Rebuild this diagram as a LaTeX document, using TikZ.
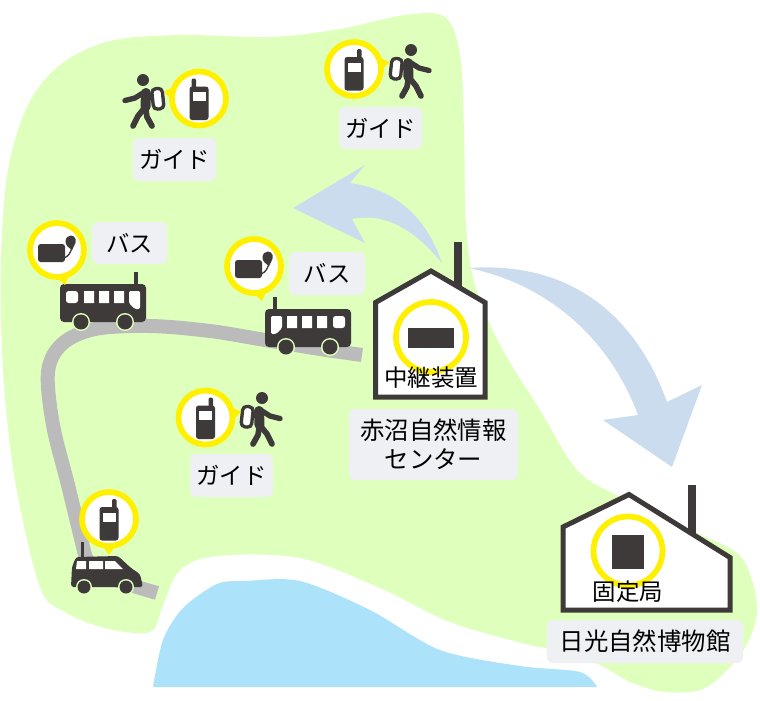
\documentclass[tikz,border=0pt]{standalone}
\usepackage{fontspec}
\setmainfont{Noto Sans CJK JP}
\definecolor{land}{HTML}{DFFFBD}
\definecolor{lake}{HTML}{ADE3FA}
\definecolor{road}{HTML}{BBBBBB}
\definecolor{wave}{HTML}{CBDCEE}
\definecolor{ink}{HTML}{3E3A39}
\definecolor{ringyellow}{HTML}{FFF000}
\definecolor{tag}{HTML}{EFF0F3}
\newlength{\pxu}\setlength{\pxu}{0.75pt}
\tikzset{
  x=0.75pt,y=-0.75pt,
  tagbox/.style={fill=tag,rounded corners=4pt,text=black,inner sep=0pt,align=center,font=\fontsize{18.3pt}{22pt}\selectfont},
  shorttag/.style={tagbox,font=\fontsize{17.5pt}{22pt}\selectfont},
  housetext/.style={text=black,inner sep=0pt,font=\fontsize{17.6pt}{21pt}\selectfont},
  house/.style={draw=ink,fill=white,line width=3.75pt,miter limit=10},
  pics/ring/.style={code={
    \fill[ringyellow] (26,-7) -- (36,0) -- (26,7) -- cycle;
    \draw[ringyellow,fill=white,line width=4.3pt] (0,0) circle (27);
  }},
  pics/phone/.style={code={
    \fill[ink,rounded corners=1pt] (3,-20) rectangle (7.5,-8);
    \fill[ink,rounded corners=2pt] (-9.5,-12) rectangle (9.5,21.5);
    \fill[white] (-6.5,-6.5) rectangle (6.5,2.5);
  }},
  pics/radio/.style={code={
    \fill[ink,rounded corners=2pt] (-19,-6) rectangle (8,12);
    \fill[ink] (14,-14.5) .. controls (19,-14.5) and (20,-8) .. (17.5,-5) .. controls (16.5,-3) and (15.5,-1) .. (15,0)
      .. controls (12,-2) and (8,-5) .. (8.5,-9) .. controls (9,-12.5) and (11,-14.5) .. (14,-14.5) -- cycle;
    \draw[ink,line width=1pt] (15,-2) .. controls (13,3) and (12,6) .. (7,8);
  }},
  pics/walker/.style={code={
    \fill[ink] (0,0) circle (6);
    \draw[ink,line width=7.5pt,line cap=round,line join=round] (-3,13) -- (-2.5,27);
    \draw[ink,line width=4pt,line cap=round,line join=round] (-3,11) -- (8,18) -- (18,20.5);
    \draw[ink,line width=4.3pt,line cap=round,line join=round] (-1.5,28) -- (5,36) -- (10,46);
    \draw[ink,line width=4.3pt,line cap=round,line join=round] (-2.5,28) -- (-4,37) -- (-9,46);
    \draw[ink,fill=white,line width=2.5pt,rounded corners=3pt,rotate around={-6:(-15,18)}] (-20,8.5) rectangle (-9.5,29);
  }},
  pics/coach/.style={code={
    \fill[ink] (31,-12) rectangle (35,2);
    \fill[ink,rounded corners=3pt] (-43,0) rectangle (43,38);
    \fill[white,rounded corners=2pt] (-37,7) rectangle (-25,19);
    \fill[white] (-19,7) rectangle (-9,19) (-4,7) rectangle (6,19) (11,7) rectangle (21,19);
    \fill[white,rounded corners=1pt] (26,7) -- (37,7) -- (37,25) -- (32,25) -- (26,19) -- cycle;
    \fill[land] (-22,38) circle (9) (22,38) circle (9);
    \fill[ink] (-22,38) circle (7.5) (22,38) circle (7.5);
  }}
}
\begin{document}
\begin{tikzpicture}
\useasboundingbox (0,0) rectangle (760,700);
\fill[white] (0,0) rectangle (760,700);

% land mass
\fill[land] plot[smooth cycle,tension=0.55] coordinates {
  (1,260) (8,170) (28,105) (60,65) (110,41) (180,35) (270,37) (340,29) (405,15) (445,17)
  (460,55) (464,130) (466,225) (475,285) (500,345) (540,410) (577,470) (620,497) (697,533)
  (737,553) (752,580) (757,613) (748,642) (730,667) (703,689) (665,692) (630,682) (600,665)
  (560,650) (530,645) (450,622) (380,588) (300,558) (217,556) (180,570) (163,605) (150,632)
  (105,628) (65,612) (40,587) (15,480) (3,370)};

% lake
\fill[lake] plot[smooth,tension=0.5] coordinates {
  (153,687) (163,640) (183,608) (217,584) (245,581) (300,581) (370,610) (440,650) (520,666) (580,672) (597,687)};
\fill[white] (150,687) rectangle (600,700);

% road
\draw[road,line width=10.5pt,line join=round] plot[smooth,tension=0.55] coordinates {
  (362,355) (320,349) (265,340) (210,331) (150,326) (95,329) (62,344) (48,372) (53,425) (68,485) (85,555)}
  .. controls (92,575) and (120,582) .. (157,593);

% signal sweeps
\fill[wave] (442,263) .. controls (428,222) and (400,190) .. (350,183) -- (365,165) -- (293,208) -- (365,243)
  -- (352,219) .. controls (385,212) and (415,230) .. cycle;
\fill[wave] (469,268) .. controls (555,262) and (630,300) .. (667,402) -- (702,385) -- (672,467) -- (603,420)
  -- (638,415) .. controls (610,340) and (550,285) .. cycle;

% relay centre
\fill[ink] (454,242) rectangle (462,290);
\draw[house] (375.5,302.5) -- (431,271) -- (485,302.5) -- (485,397) -- (375.5,397) -- cycle;
\draw[ringyellow,line width=4.3pt] (431,337) circle (35);
\fill[ink] (408,328) rectangle (454,348);
\node[housetext] (relaycap) at (431,378) {中継装置};
\node[tagbox,minimum width=169*\pxu,minimum height=71*\pxu] (centre) at (433.5,444.5) {赤沼自然情報\\センター};

% museum
\fill[ink] (688,485) rectangle (696,536);
\draw[house] (563,527) -- (629,494.5) -- (730,557.5) -- (730,610) -- (563,610) -- cycle;
\draw[ringyellow,line width=4.3pt] (628,551) circle (34.5);
\fill[ink] (612,535) rectangle (644,569);
\node[housetext] (basecap) at (628,592) {固定局};
\node[tagbox,minimum width=196*\pxu,minimum height=43*\pxu] (museum) at (645,641.5) {日光自然博物館};

% buses
\pic at (103,284) {coach};
\pic[xscale=-1] at (308,309) {coach};
\pic[rotate=-77] at (57,250) {ring};
\pic at (57,250) {radio};
\pic[rotate=-77] at (254,266) {ring};
\pic at (254,266) {radio};
\node[shorttag,minimum width=75*\pxu,minimum height=42*\pxu] (busa) at (129.5,243) {バス};
\node[shorttag,minimum width=76*\pxu,minimum height=43*\pxu] (busb) at (327,273.5) {バス};

% guides
\pic[xscale=-1] at (143,80) {walker};
\pic[rotate=169] at (199,98.5) {ring};
\pic[xscale=-1] at (199,98.5) {phone};
\node[shorttag,minimum width=83*\pxu,minimum height=43*\pxu] (guidea) at (174.5,159.5) {ガイド};

\pic at (411,50) {walker};
\pic[rotate=11] at (354,69) {ring};
\pic at (354,69) {phone};
\node[shorttag,minimum width=83*\pxu,minimum height=42*\pxu] (guideb) at (380.5,128) {ガイド};

\pic at (262,398) {walker};
\pic[rotate=9] at (205.5,417.5) {ring};
\pic at (205.5,417.5) {phone};
\node[shorttag,minimum width=83*\pxu,minimum height=43*\pxu] (guidec) at (231.5,475.5) {ガイド};

% patrol car
\fill[ink] (81,542) rectangle (83.5,560);
\fill[ink,rounded corners=2pt] (71,587) -- (72,567) -- (76,557) -- (118,556) -- (131,568) -- (140,574) -- (143,587) -- cycle;
\fill[white] (77,561) -- (86,561) -- (86,569) -- (76,569) -- cycle
  (89,561) -- (103,561) -- (103,569) -- (89,569) -- cycle
  (105,561) -- (115,561) -- (123,569) -- (105,569) -- cycle;
\fill[land] (84,587) circle (8) (126,587) circle (8);
\fill[ink] (84,587) circle (6.5) (126,587) circle (6.5);
\pic[rotate=-90] at (109,519) {ring};
\pic at (109,519) {phone};
\end{tikzpicture}
\end{document}
